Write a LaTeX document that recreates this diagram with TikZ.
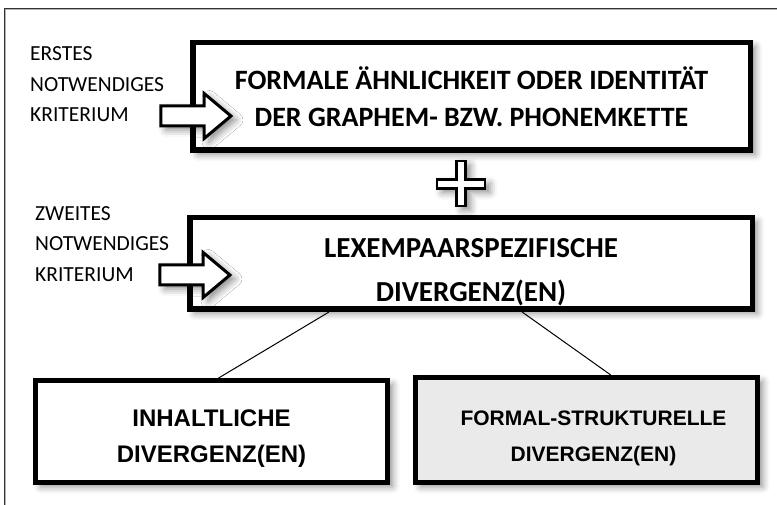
\documentclass[tikz,border=0pt]{standalone}
\usepackage{fontspec}
\setmainfont{Carlito}
\newfontfamily\arialfont{Liberation Sans}
\usetikzlibrary{shapes.arrows,shadows.blur,calc}
\definecolor{framegray}{RGB}{50,50,50}
\definecolor{boxgray}{RGB}{234,234,234}

\begin{document}
\begin{tikzpicture}[x=1pt,y=-1pt,
    softshadow/.style={blur shadow={shadow xshift=5pt,shadow yshift=-4pt,shadow blur radius=7pt,shadow opacity=45}},
    bigbox/.style={draw,line width=5.5pt,fill=white,align=center,inner sep=0pt,softshadow},
    lowbox/.style={draw,line width=5pt,fill=white,align=center,inner sep=0pt,softshadow,
      font=\arialfont\bfseries\fontsize{24}{36}\selectfont},
    crit/.style={anchor=west,align=left,inner sep=0pt,font=\fontsize{21.5}{30.5}\selectfont},
    blockarrow/.style={single arrow,draw,line width=3pt,fill=white,softshadow,
      minimum height=70pt,inner xsep=0pt,inner ysep=8.5pt,single arrow head extend=12.5pt,
      single arrow tip angle=80}]
    \useasboundingbox (0,0) rectangle (777,505);
    % outer frame (only top and left edge visible)
    \draw[framegray,line width=0.9pt,double=gray!60,double distance=0.9pt] (5,505) -- (5,9) -- (777,9);
    % first criterion
    \node[bigbox,minimum width=557.5pt,minimum height=107.5pt,
      font=\bfseries\fontsize{28}{37}\selectfont] (form) at (471.5,96.5)
      {FORMALE ÄHNLICHKEIT ODER IDENTITÄT\\DER GRAPHEM- BZW. PHONEMKETTE};
    \node[crit] (crit1) at (30,84.5) {ERSTES\\NOTWENDIGES\\KRITERIUM};
    \node[blockarrow] (arr1) at (190,116) {};
    % plus sign
    \begin{scope}[shift={(461,184)}]
      \draw[line width=2.5pt,fill=white,softshadow] (-4.5,-23) -- (4.5,-23) -- (4.5,-4.5) -- (24,-4.5)
        -- (24,4.5) -- (4.5,4.5) -- (4.5,22) -- (-4.5,22) -- (-4.5,4.5) -- (-24,4.5)
        -- (-24,-4.5) -- (-4.5,-4.5) -- cycle;
    \end{scope}
    % second criterion
    \node[bigbox,minimum width=562.5pt,minimum height=91.5pt,
      font=\bfseries\fontsize{29}{44}\selectfont] (lex) at (471,263.5)
      {\rule{0pt}{36pt}LEXEMPAARSPEZIFISCHE\\DIVERGENZ(EN)};
    \node[crit] (crit2) at (35,244) {ZWEITES\\NOTWENDIGES\\KRITERIUM};
    \node[blockarrow] (arr2) at (189,275) {};
    % the two kinds of divergence
    \node[lowbox,minimum width=352pt,minimum height=102pt] (inh) at (211.5,431.5)
      {\rule{0pt}{30pt}INHALTLICHE\\DIVERGENZ(EN)};
    \node[lowbox,fill=boxgray,minimum width=342pt,minimum height=105pt,
      font=\arialfont\bfseries\fontsize{21}{36}\selectfont] (fs) at (586.5,430)
      {\rule{0pt}{31pt}\hspace*{14pt}FORMAL-STRUKTURELLE\\\hspace*{14pt}DIVERGENZ(EN)};
    \draw[line width=1pt] ($(lex.south west)!0.25!(lex.south east)$) -- ($(inh.north west)!0.52!(inh.north east)$);
    \draw[line width=1pt] ($(lex.south west)!0.59!(lex.south east)$) -- ($(fs.north west)!0.57!(fs.north east)$);
  \end{tikzpicture}
\end{document}
